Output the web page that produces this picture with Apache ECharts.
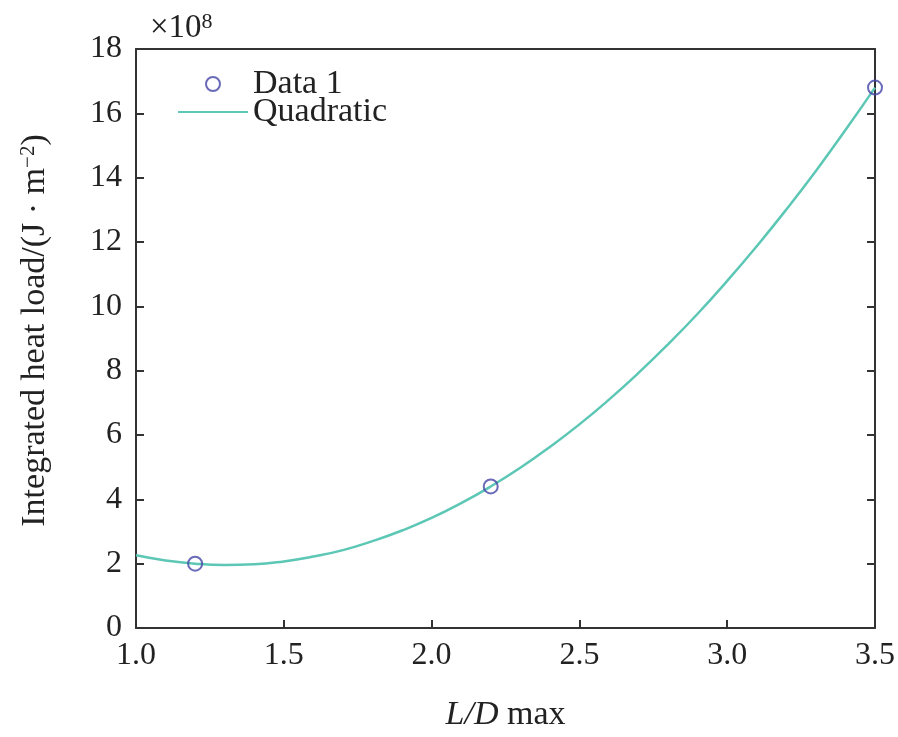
<!DOCTYPE html>
<html><head><meta charset="utf-8">
<script src="https://cdn.jsdelivr.net/npm/echarts@6/dist/echarts.min.js"></script>
<style>html,body{margin:0;padding:0;background:#fff}#c{width:898px;height:737px}</style>
</head><body><div id="c"></div>
<script>
// Data (values in units of 1e8 J/m^2)
const dataX = [1.2, 2.2, 3.5];
const dataY = [2.0, 4.4, 16.8];
const curveX = [1.0,1.1,1.2,1.3,1.4,1.5,1.6,1.7,1.8,1.9,2.0,2.1,2.2,2.3,2.4,2.5,2.6,2.7,2.8,2.9,3.0,3.1,3.2,3.3,3.4,3.5];
const curveY = [2.26,2.10,2.00,1.96,1.98,2.07,2.22,2.42,2.70,3.03,3.42,3.88,4.40,4.98,5.63,6.33,7.10,7.93,8.82,9.77,10.79,11.87,13.01,14.21,15.48,16.80];
const xTicks = [1.0,1.5,2.0,2.5,3.0,3.5];
const yTicks = [0,2,4,6,8,10,12,14,16,18];

const FONT = 'Liberation Serif';
const TXT = '#222';
const AX = '#333';
const chart = echarts.init(document.getElementById('c'));
const scatterData = dataX.map((x,i)=>[x,dataY[i]]);
const lineData = curveX.map((x,i)=>[x,curveY[i]]);
chart.setOption({
  animation:false,
  backgroundColor:'#fff',
  grid:{left:136,right:23,top:49,bottom:107,containLabel:false},
  legend:{
    orient:'vertical', left:172, top:62, itemWidth:70, itemHeight:14, itemGap:-6,
    textStyle:{fontFamily:FONT,fontSize:34,color:TXT,lineHeight:28},
    data:[
      {name:'Data 1', icon:'circle', itemStyle:{color:'rgba(0,0,0,0)',borderColor:'#4545a8',borderWidth:2}},
      {name:'Quadratic', itemStyle:{opacity:0}}
    ]
  },
  graphic:[{
    type:'text', left:150, top:11,
    style:{
      rich:{a:{fontFamily:FONT,fontSize:33,fill:TXT},s:{fontFamily:FONT,fontSize:22,fill:TXT,verticalAlign:'top',padding:[0,0,12,0]}},
      text:'{a|×10}{s|8}'
    }
  }],
  xAxis:[{
    type:'value', min:1.0, max:3.5, interval:0.5,
    name:'{i|L/D}{n| max}', nameLocation:'middle', nameGap:70,
    nameTextStyle:{rich:{i:{fontFamily:FONT,fontSize:34,fontStyle:'italic',color:TXT},n:{fontFamily:FONT,fontSize:34,color:TXT}}},
    axisLine:{show:true,lineStyle:{color:AX,width:2}},
    axisTick:{show:true,inside:true,length:8,lineStyle:{color:AX,width:2}},
    axisLabel:{fontFamily:FONT,fontSize:32,color:TXT,margin:12,formatter:v=>v.toFixed(1)},
    splitLine:{show:false}
  },{
    type:'value', position:'top', min:1.0, max:3.5,
    axisLine:{show:true,onZero:false,lineStyle:{color:AX,width:2}},
    axisTick:{show:false}, axisLabel:{show:false}, splitLine:{show:false}
  }],
  yAxis:[{
    type:'value', min:0, max:18, interval:2,
    name:'{a|Integrated heat load/(J · m}{s|−2}{a|)}', nameLocation:'middle', nameGap:84, nameRotate:90,
    nameTextStyle:{padding:[0,0,0,16],rich:{a:{fontFamily:FONT,fontSize:34,color:TXT},s:{fontFamily:FONT,fontSize:21,color:TXT,verticalAlign:'top',padding:[0,0,12,0]}}},
    axisLine:{show:true,lineStyle:{color:AX,width:2}},
    axisTick:{show:true,inside:true,length:8,lineStyle:{color:AX,width:2}},
    axisLabel:{fontFamily:FONT,fontSize:32,color:TXT,margin:14},
    splitLine:{show:false}
  },{
    type:'value', position:'right', min:0, max:18, interval:2,
    axisLine:{show:true,onZero:false,lineStyle:{color:AX,width:2}},
    axisTick:{show:true,inside:true,length:8,lineStyle:{color:AX,width:2}},
    axisLabel:{show:false}, splitLine:{show:false}
  }],
  series:[{
    name:'Quadratic', type:'line', data:lineData, smooth:true, symbol:'none',
    lineStyle:{color:'#5cc7b5',width:2.5}, itemStyle:{color:'#5cc7b5'}, z:2
  },{
    name:'Data 1', type:'scatter', data:scatterData, symbol:'circle', symbolSize:14,
    itemStyle:{color:'rgba(0,0,0,0)',borderColor:'#4545a8',borderWidth:2}, z:3
  }]
});
</script></body></html>
